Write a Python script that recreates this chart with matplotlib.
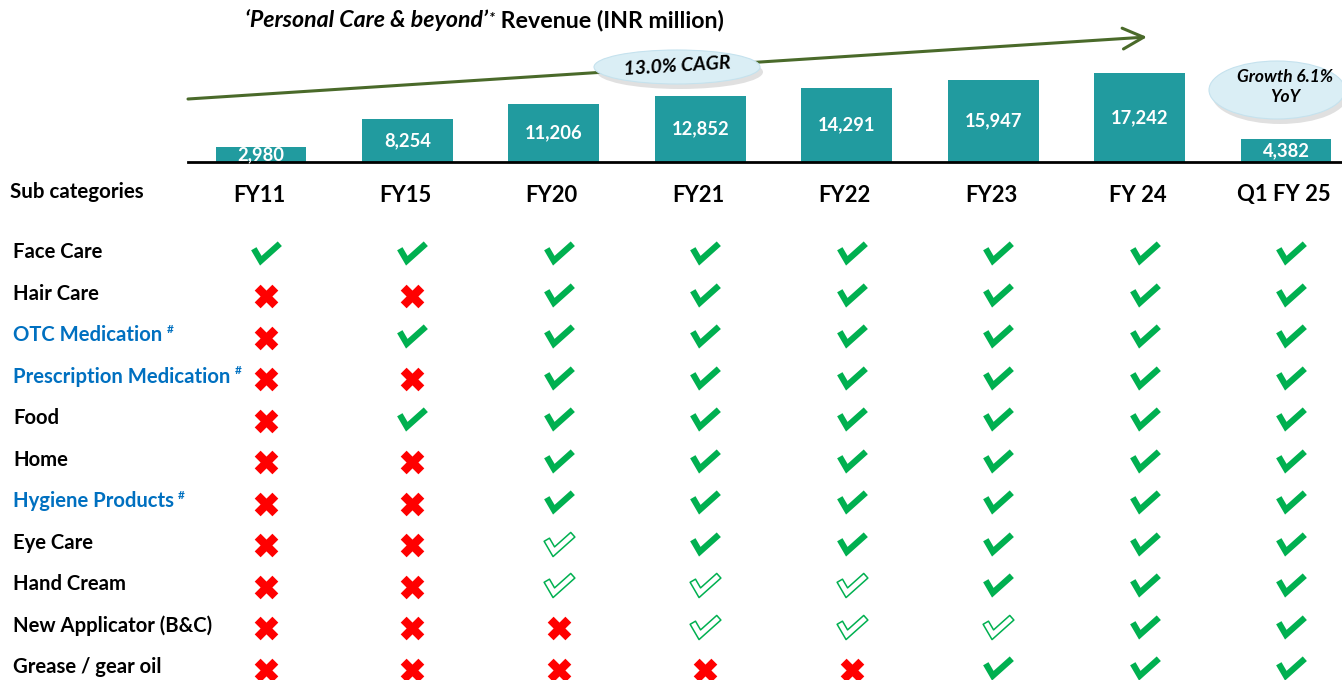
import numpy as np
import matplotlib
matplotlib.use("Agg")
import matplotlib.pyplot as plt
from matplotlib.path import Path
from matplotlib.patches import Ellipse
from matplotlib.transforms import blended_transform_factory

plt.rcParams['font.family'] = ['Lato', 'DejaVu Sans']

# ---------------- data ----------------
periods = ["FY11", "FY15", "FY20", "FY21", "FY22", "FY23", "FY 24", "Q1 FY 25"]
revenue = [2980, 8254, 11206, 12852, 14291, 15947, 17242, 4382]
revenue_labels = ["2,980", "8,254", "11,206", "12,852", "14,291", "15,947", "17,242", "4,382"]

sub_categories = ["Face Care", "Hair Care", "OTC Medication", "Prescription Medication",
                  "Food", "Home", "Hygiene Products", "Eye Care", "Hand Cream",
                  "New Applicator (B&C)", "Grease / gear oil"]
hash_marked = [False, False, True, True, False, False, True, False, False, False, False]

# Y = present, O = launched / partial (outline tick), N = absent
presence = [
    "YYYYYYYY",  # Face Care
    "NNYYYYYY",  # Hair Care
    "NYYYYYYY",  # OTC Medication
    "NNYYYYYY",  # Prescription Medication
    "NYYYYYYY",  # Food
    "NNYYYYYY",  # Home
    "NNYYYYYY",  # Hygiene Products
    "NNOYYYYY",  # Eye Care
    "NNOOOYYY",  # Hand Cream
    "NNNOOOYY",  # New Applicator (B&C)
    "NNNNNYYY",  # Grease / gear oil
]

title_italic = "\u2018Personal Care & beyond\u2019"
title_rest = " Revenue (INR million)"
cagr_text = "13.0% CAGR"
growth_text = "Growth 6.1%\nYoY"
header_left = "Sub categories"

# ---------------- layout ----------------
W, H = 1342, 680
fig = plt.figure(figsize=(W / 100, H / 100), dpi=100)

TEAL = "#219B9F"
GREEN = "#00B050"
RED = "#FF0000"
BLUE = "#0070C0"
ARROW = "#4A6A2A"

ax_left_px, base_px = 188, 162
step_px = 146.43
col0_px = 261
xmin = (ax_left_px - col0_px) / step_px
xmax = xmin + (W - ax_left_px) / step_px
px_per_unit = 0.00516

ax_bar = fig.add_axes([ax_left_px / W, (H - base_px) / H, (W - ax_left_px) / W, base_px / H])
x = np.arange(len(periods))
bars = ax_bar.bar(x, revenue, width=0.62, color=TEAL, zorder=2)
ax_bar.set_xlim(xmin, xmax)
ax_bar.set_ylim(0, base_px / px_per_unit)
for s in ["top", "right", "left"]:
    ax_bar.spines[s].set_visible(False)
ax_bar.spines["bottom"].set_linewidth(2.0)
ax_bar.spines["bottom"].set_color("black")
ax_bar.spines["bottom"].set_zorder(3)
ax_bar.set_xticks([])
ax_bar.set_yticks([])
ax_bar.patch.set_alpha(0)
for xi, v, lab in zip(x, revenue, revenue_labels):
    ax_bar.text(xi, v / 2, lab, ha="center", va="center", color="white",
                fontsize=13.2, fontweight="bold", zorder=4)

# table axes (same column scale, rows as categorical index)
row0_px, row_step_px = 253, 41.5
ax_tab = fig.add_axes([ax_left_px / W, 0, (W - ax_left_px) / W, 1])
ax_tab.set_xlim(xmin, xmax)
ax_tab.set_ylim((H - row0_px) / row_step_px, -row0_px / row_step_px)
ax_tab.axis("off")
ax_tab.patch.set_alpha(0)

def thick_tick(pts, w):
    p = np.array(pts, float)
    d1 = p[1] - p[0]
    d2 = p[2] - p[1]
    n1 = np.array([-d1[1], d1[0]]) / np.hypot(*d1)
    n2 = np.array([-d2[1], d2[0]]) / np.hypot(*d2)
    u = n1 + n2
    off = u * w / np.dot(u, n1)
    verts = [p[0] + w * n1, p[1] + off, p[2] + w * n2, p[2] - w * n2, p[1] - off, p[0] - w * n1]
    verts = np.array(verts)
    verts -= (verts.max(axis=0) + verts.min(axis=0)) / 2
    codes = [Path.MOVETO] + [Path.LINETO] * 5 + [Path.CLOSEPOLY]
    verts = np.vstack([verts, verts[:1]])
    return Path(verts, codes), np.max(np.abs(verts))

tick_path, tick_ext = thick_tick([(-12, 4), (-5, -8), (14, 9)], 3.1)
tick_ms = 2 * tick_ext * 0.72

ys, xs, kinds = [], [], []
for r, row in enumerate(presence):
    for c, k in enumerate(row):
        ys.append(r)
        xs.append(c)
        kinds.append(k)
ys, xs, kinds = np.array(ys, float), np.array(xs, float), np.array(kinds)
dx = 5 / step_px
m = kinds == "Y"
ax_tab.scatter(xs[m] + dx, ys[m], marker=tick_path, s=tick_ms ** 2, color=GREEN, linewidths=0)
m = kinds == "O"
ax_tab.scatter(xs[m] + dx, ys[m], marker=tick_path, s=tick_ms ** 2, facecolors="white",
               edgecolors=GREEN, linewidths=1.1)
m = kinds == "N"
ax_tab.scatter(xs[m] + dx, ys[m] + 0.04, marker="X", s=17 ** 2, color=RED, linewidths=0)

# header row
hdr_y = (195 - row0_px) / row_step_px
for xi, p in zip(x, periods):
    ax_tab.text(xi - 2 / step_px, hdr_y, p, ha="center", va="center", fontsize=15.8,
                fontweight="bold", color="black")
tr = blended_transform_factory(fig.transFigure, ax_tab.transData)
ax_tab.text(10 / W, (192 - row0_px) / row_step_px, header_left, transform=tr, ha="left", va="center",
            fontsize=14.8, fontweight="bold", color="black")

for r, (lab, hm) in enumerate(zip(sub_categories, hash_marked)):
    col = BLUE if hm else "black"
    t = ax_tab.text(13 / W, r - 0.02, lab, transform=tr, ha="left", va="center",
                    fontsize=14.6, fontweight="bold", color=col)
    if hm:
        ax_tab.annotate("#", xy=(1, 0.8), xycoords=t, xytext=(3, 0), textcoords="offset points",
                        ha="left", va="center", fontsize=8.5, fontweight="bold", color=col)

# overlay (annotations in pixel space)
ax_ov = fig.add_axes([0, 0, 1, 1])
ax_ov.set_xlim(0, W)
ax_ov.set_ylim(H, 0)
ax_ov.axis("off")
ax_ov.patch.set_alpha(0)

ax_ov.annotate("", xy=(1147, 37), xytext=(188, 99),
               arrowprops=dict(arrowstyle="->,head_length=1.5,head_width=0.75", color=ARROW,
                               lw=2.2, shrinkA=0, shrinkB=0))

# CAGR bubble
ax_ov.add_patch(Ellipse((680, 72), 166, 34, facecolor="#9A9A9A", alpha=0.3, edgecolor="none", zorder=5))
ax_ov.add_patch(Ellipse((677, 67), 166, 34, facecolor="#DAEEF5", edgecolor="#C5E2EE", lw=0.8, zorder=6))
ax_ov.text(677, 66, cagr_text, ha="center", va="center", rotation=3.5, fontsize=14,
           fontweight="bold", fontstyle="italic", color="black", zorder=7)

# Growth bubble
ax_ov.add_patch(Ellipse((1280, 95), 136, 58, facecolor="#9A9A9A", alpha=0.3, edgecolor="none", zorder=5))
ax_ov.add_patch(Ellipse((1277, 90), 136, 58, facecolor="#DAEEF5", edgecolor="#C5E2EE", lw=0.8, zorder=6))
ax_ov.text(1285, 87, growth_text, ha="center", va="center", fontsize=12.5, linespacing=1.35,
           fontweight="bold", fontstyle="italic", color="black", zorder=7)

# title
t1 = ax_ov.text(245, 27, title_italic, ha="left", va="baseline", fontsize=16.7,
                fontweight="bold", fontstyle="italic", color="black")
t2 = ax_ov.annotate("*", xy=(1, 1), xycoords=t1, xytext=(1, -2), textcoords="offset points",
                    ha="left", va="top", fontsize=11, fontweight="bold", fontstyle="italic")
ax_ov.annotate(title_rest, xy=(1, 0), xycoords=(t2, t1), ha="left", va="bottom",
               fontsize=16.7, fontweight="bold", color="black")

fig.savefig("out.png", dpi=100)
